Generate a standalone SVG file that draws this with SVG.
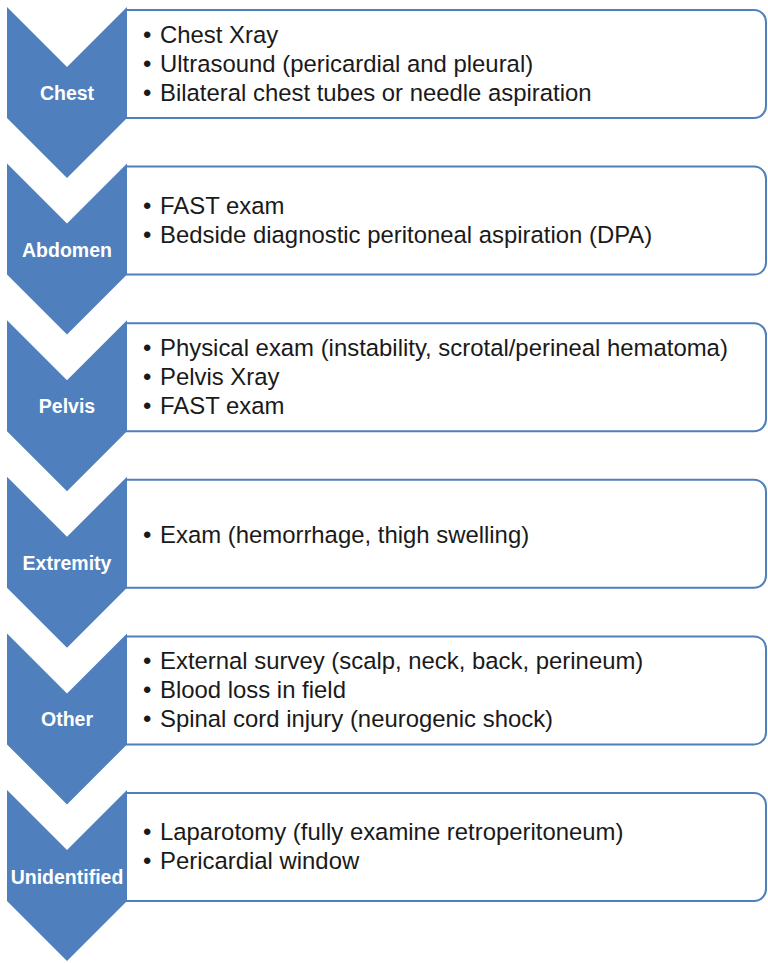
<svg xmlns="http://www.w3.org/2000/svg" xmlns:xlink="http://www.w3.org/1999/xlink" width="768" height="963" viewBox="0 0 768 963">
<style>
.chev{fill:#4f7fbc;}
.box{fill:#ffffff;stroke:#4f7fbc;stroke-width:2;}
.lbl{font-family:"Liberation Sans",Arial,sans-serif;font-weight:bold;font-size:19.5px;fill:#ffffff;text-anchor:middle;}
.txt{font-family:"Liberation Sans",Arial,sans-serif;font-size:23.9px;fill:#1a1a1a;}
</style>
<defs>
<path id="chevron" d="M7,0 L67,60 L127,0 L127,111 L67,171 L7,111 Z"/>
<path id="boxshape" d="M126,3 H754 A12,12 0 0 1 766,15 V99 A12,12 0 0 1 754,111 H126"/>
</defs>
<rect width="768" height="963" fill="#ffffff"/>

<g id="chest" transform="translate(0,7)">
<use xlink:href="#boxshape" class="box"/>
<use xlink:href="#chevron" class="chev"/>
<text class="lbl" x="67" y="93">Chest</text>
<text class="txt"><tspan x="143" y="36">•</tspan><tspan x="160" y="36">Chest Xray</tspan></text>
<text class="txt"><tspan x="143" y="65">•</tspan><tspan x="160" y="65">Ultrasound (pericardial and pleural)</tspan></text>
<text class="txt"><tspan x="143" y="94">•</tspan><tspan x="160" y="94">Bilateral chest tubes or needle aspiration</tspan></text>
</g>

<g id="abdomen" transform="translate(0,163.6)">
<use xlink:href="#boxshape" class="box"/>
<use xlink:href="#chevron" class="chev"/>
<text class="lbl" x="67" y="93">Abdomen</text>
<text class="txt"><tspan x="143" y="50">•</tspan><tspan x="160" y="50">FAST exam</tspan></text>
<text class="txt"><tspan x="143" y="79">•</tspan><tspan x="160" y="79">Bedside diagnostic peritoneal aspiration (DPA)</tspan></text>
</g>

<g id="pelvis" transform="translate(0,320.2)">
<use xlink:href="#boxshape" class="box"/>
<use xlink:href="#chevron" class="chev"/>
<text class="lbl" x="67" y="93">Pelvis</text>
<text class="txt"><tspan x="143" y="36">•</tspan><tspan x="160" y="36">Physical exam (instability, scrotal/perineal hematoma)</tspan></text>
<text class="txt"><tspan x="143" y="65">•</tspan><tspan x="160" y="65">Pelvis Xray</tspan></text>
<text class="txt"><tspan x="143" y="94">•</tspan><tspan x="160" y="94">FAST exam</tspan></text>
</g>

<g id="extremity" transform="translate(0,476.8)">
<use xlink:href="#boxshape" class="box"/>
<use xlink:href="#chevron" class="chev"/>
<text class="lbl" x="67" y="93">Extremity</text>
<text class="txt"><tspan x="143" y="66">•</tspan><tspan x="160" y="66">Exam (hemorrhage, thigh swelling)</tspan></text>
</g>

<g id="other" transform="translate(0,633.4)">
<use xlink:href="#boxshape" class="box"/>
<use xlink:href="#chevron" class="chev"/>
<text class="lbl" x="67" y="93">Other</text>
<text class="txt"><tspan x="143" y="36">•</tspan><tspan x="160" y="36">External survey (scalp, neck, back, perineum)</tspan></text>
<text class="txt"><tspan x="143" y="65">•</tspan><tspan x="160" y="65">Blood loss in field</tspan></text>
<text class="txt"><tspan x="143" y="94">•</tspan><tspan x="160" y="94">Spinal cord injury (neurogenic shock)</tspan></text>
</g>

<g id="unidentified" transform="translate(0,790)">
<use xlink:href="#boxshape" class="box"/>
<use xlink:href="#chevron" class="chev"/>
<text class="lbl" x="67" y="94">Unidentified</text>
<text class="txt"><tspan x="143" y="50">•</tspan><tspan x="160" y="50">Laparotomy (fully examine retroperitoneum)</tspan></text>
<text class="txt"><tspan x="143" y="79">•</tspan><tspan x="160" y="79">Pericardial window</tspan></text>
</g>
</svg>
